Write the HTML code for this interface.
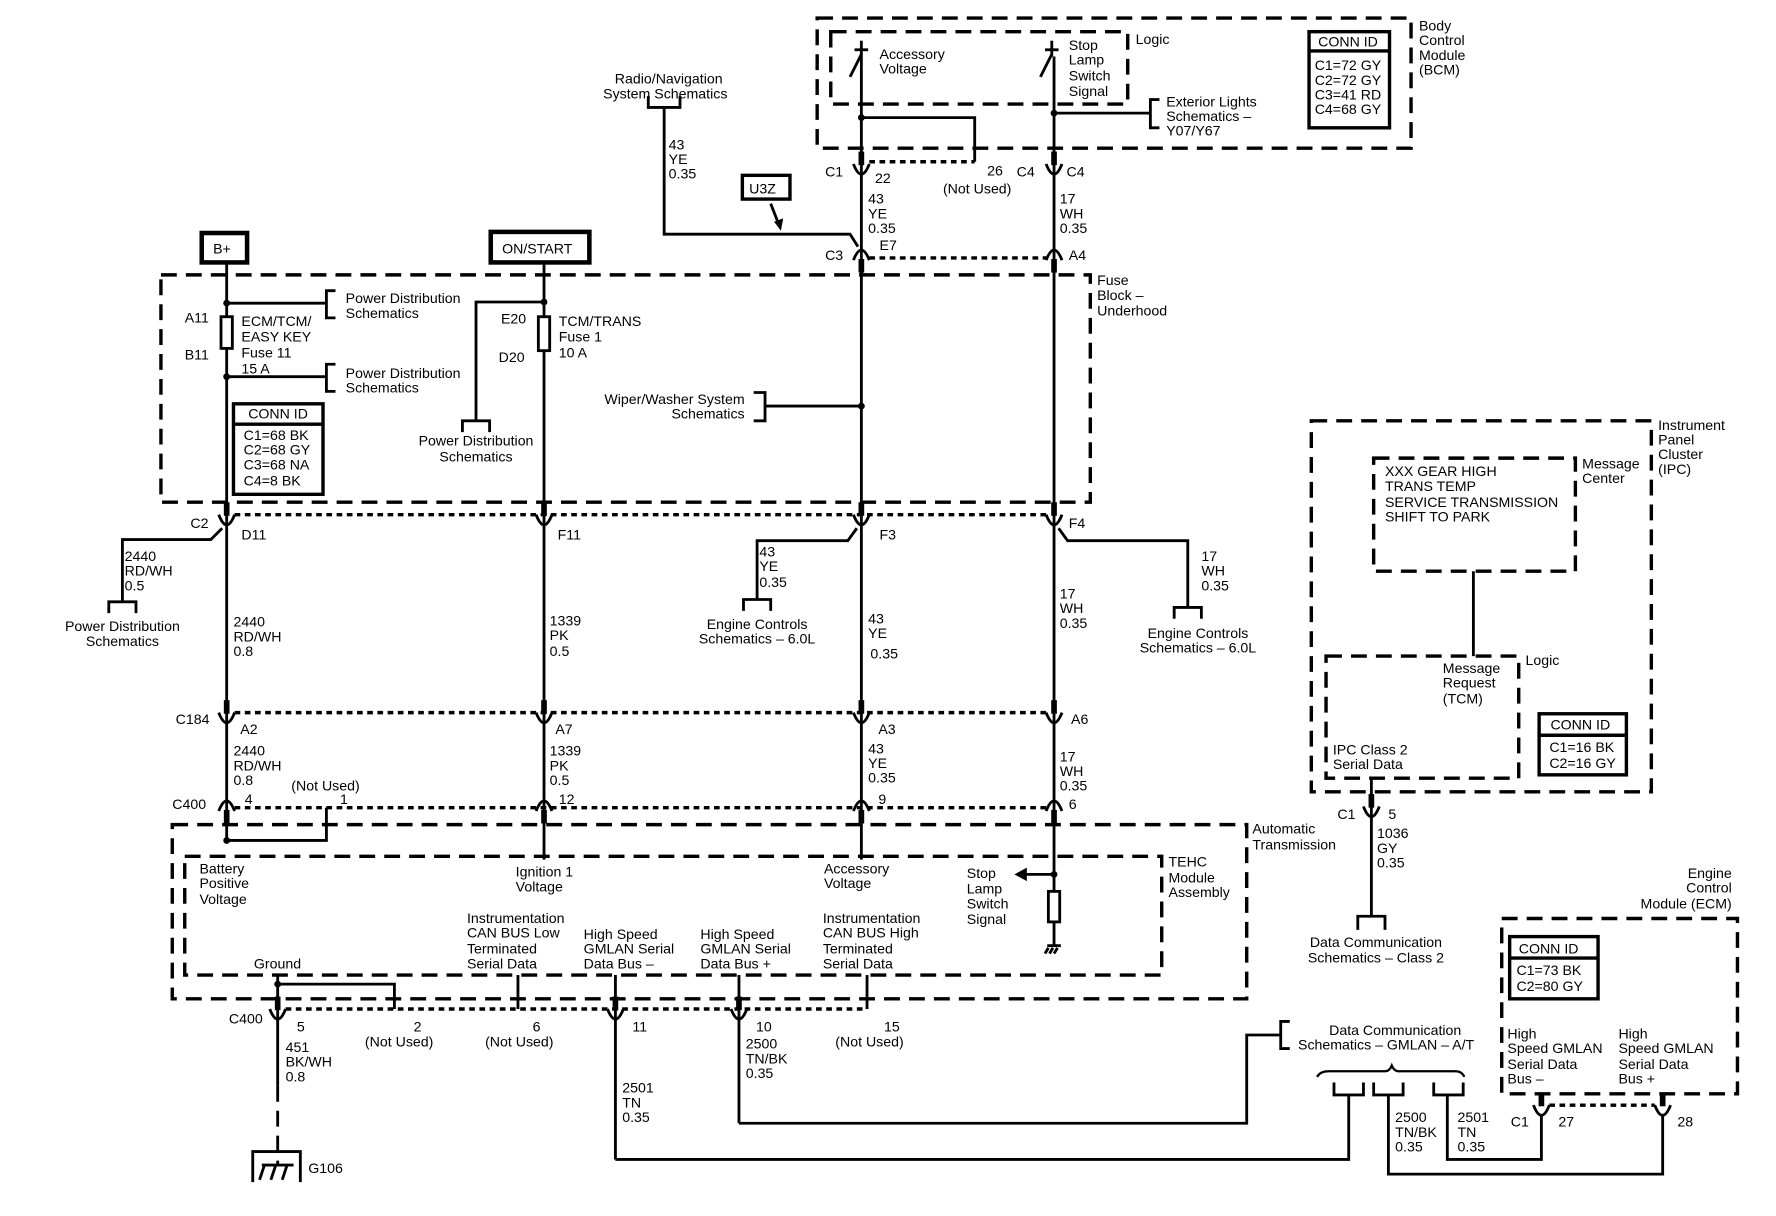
<!DOCTYPE html>
<html><head><meta charset="utf-8"><style>
html,body{margin:0;padding:0;background:#fff;}
svg{display:block;}
text{font-family:"Liberation Sans",Arial,sans-serif;font-size:12.5px;fill:#000;}
</style></head><body>
<svg width="1776" height="1216" viewBox="0 0 1567 1075" preserveAspectRatio="none" xmlns="http://www.w3.org/2000/svg">
<defs>
<g id="cup"><path d="M-7,-5 Q0,13 7,-5" fill="none" stroke="#000" stroke-width="2.5"/><rect x="-2.5" y="-16" width="5" height="12"/></g>
<g id="cap"><path d="M-7,5 Q0,-13 7,5" fill="none" stroke="#000" stroke-width="2.5"/><rect x="-2.5" y="4" width="5" height="12"/></g>
</defs>
<g fill="none" stroke="#000">
<g stroke-width="3" stroke-dasharray="14 8">
<rect x="721" y="16" width="524" height="115"/>
<rect x="733" y="28" width="262" height="64"/>
<rect x="142" y="243" width="820" height="201"/>
<rect x="152" y="729" width="948" height="154"/>
<rect x="163" y="757" width="862" height="105"/>
<rect x="1157" y="372" width="300" height="328"/>
<rect x="1212" y="405" width="178" height="100"/>
<rect x="1170" y="580" width="170" height="108"/>
<rect x="1325" y="812" width="208" height="155"/>
</g>
<g stroke-width="3" stroke-dasharray="5 4">
<line x1="767" y1="143" x2="860" y2="143"/>
<line x1="767" y1="228" x2="923" y2="228"/>
<line x1="207" y1="455" x2="923" y2="455"/>
<line x1="207" y1="630" x2="923" y2="630"/>
<line x1="207" y1="714" x2="923" y2="714"/>
<line x1="252" y1="892" x2="765" y2="892"/>
<line x1="1367" y1="977" x2="1460" y2="977"/>
</g>
<g stroke-width="2.5">
<line x1="760" y1="50" x2="760" y2="760"/>
<polyline points="760,104 860,104 860,143"/>
<line x1="930" y1="50" x2="930" y2="835"/>
<polyline points="930,100 1015,100"/>
<polyline points="1023,88 1015,88 1015,113 1023,113"/>
<line x1="760" y1="50" x2="760" y2="36"/><line x1="754" y1="44" x2="766" y2="44"/><line x1="760" y1="48" x2="750" y2="68"/>
<line x1="928" y1="50" x2="928" y2="36"/><line x1="922" y1="44" x2="934" y2="44"/><line x1="928" y1="48" x2="918" y2="68"/>
<polyline points="572,85 572,95 600,95 600,85"/>
<polyline points="586,95 586,207 750,207 757,218"/>
<rect x="655" y="155" width="42" height="21" stroke-width="3"/>
<line x1="680" y1="180" x2="687" y2="198"/>
<rect x="178" y="206" width="40" height="26" stroke-width="4"/>
<rect x="433" y="205" width="87" height="27" stroke-width="4"/>
<line x1="200" y1="232" x2="200" y2="743"/>
<line x1="480" y1="232" x2="480" y2="760"/>
<polyline points="200,268 288,268"/><polyline points="296,257 288,257 288,281 296,281"/>
<polyline points="200,333 288,333"/><polyline points="296,322 288,322 288,346 296,346"/>
<rect x="195" y="280" width="10" height="28" fill="#fff"/>
<rect x="475" y="280" width="10" height="30" fill="#fff"/>
<polyline points="480,267 420,267 420,372"/><polyline points="408,382 408,372 432,372 432,382"/>
<polyline points="760,359 675,359"/><polyline points="665,347 675,347 675,372 665,372"/>
<rect x="206" y="357" width="79" height="80" stroke-width="3"/><line x1="206" y1="375" x2="285" y2="375" stroke-width="3"/>
<polyline points="196,467 186,477 108,477 108,532"/><polyline points="96,542 96,532 120,532 120,542"/>
<polyline points="756,467 748,478 668,478 668,530"/><polyline points="656,540 656,530 680,530 680,540"/>
<polyline points="934,467 942,478 1048,478 1048,537"/><polyline points="1036,547 1036,537 1060,537 1060,547"/>
<polyline points="200,743 288,743 288,714"/>
<line x1="930" y1="773" x2="905" y2="773"/>
<rect x="925" y="788" width="10" height="27" fill="#fff"/>
<line x1="924" y1="836" x2="936" y2="836"/>
<line x1="925" y1="838" x2="922" y2="843"/><line x1="929" y1="838" x2="926" y2="843"/><line x1="933" y1="838" x2="930" y2="843"/>
<line x1="245" y1="862" x2="245" y2="960"/>
<polyline points="245,870 348,870 348,892"/>
<line x1="457" y1="862" x2="457" y2="892"/>
<line x1="543" y1="862" x2="543" y2="1025"/>
<line x1="652" y1="862" x2="652" y2="993"/>
<line x1="765" y1="862" x2="765" y2="892"/>
<line x1="245" y1="960" x2="245" y2="1030" stroke-dasharray="14 8"/>
<polyline points="223,1045 223,1018 265,1018 265,1045"/>
<line x1="231" y1="1030" x2="259" y2="1030"/>
<line x1="233" y1="1031" x2="229" y2="1043"/><line x1="243" y1="1031" x2="239" y2="1043"/><line x1="253" y1="1031" x2="249" y2="1043"/>
<polyline points="543,1025 1190,1025 1190,968"/>
<polyline points="652,993 1100,993 1100,915 1130,915"/>
<polyline points="1138,903 1130,903 1130,927 1138,927"/>
<polyline points="1177,957 1177,968 1203,968 1203,957"/>
<polyline points="1212,957 1212,968 1238,968 1238,957"/>
<polyline points="1265,957 1265,968 1291,968 1291,957"/>
<polyline points="1225,968 1225,1038 1467,1038 1467,985"/>
<polyline points="1277,968 1277,1025 1360,1025 1360,985"/>
<path d="M1162,952 Q1165,947 1172,947 L1222,947 Q1226,947 1228,942 Q1230,947 1234,947 L1284,947 Q1290,947 1292,952" stroke-width="2"/>
<line x1="1300" y1="505" x2="1300" y2="580"/>
<line x1="1210" y1="688" x2="1210" y2="810"/>
<polyline points="1198,822 1198,810 1222,810 1222,822"/>
<rect x="1358" y="631" width="77" height="54" stroke-width="3"/><line x1="1358" y1="650" x2="1435" y2="650" stroke-width="3"/>
<rect x="1155" y="28" width="71" height="85" stroke-width="3"/><line x1="1155" y1="45" x2="1226" y2="45" stroke-width="3"/>
<rect x="1332" y="828" width="78" height="55" stroke-width="3"/><line x1="1332" y1="847" x2="1410" y2="847" stroke-width="3"/>
</g>
</g>
<g fill="#000">
<circle cx="760" cy="104" r="3"/><circle cx="930" cy="100" r="3"/>
<circle cx="200" cy="268" r="3"/><circle cx="200" cy="333" r="3"/><circle cx="480" cy="267" r="3"/>
<circle cx="760" cy="359" r="3"/><circle cx="200" cy="743" r="3"/><circle cx="930" cy="773" r="3"/><circle cx="245" cy="870" r="3"/>
<polygon points="683,196 691,193 689,204"/>
<polygon points="895,773 906,767 906,779"/>
<use href="#cup" x="760" y="150"/><use href="#cup" x="930" y="150"/>
<use href="#cap" x="760" y="225"/><use href="#cap" x="930" y="225"/>
<use href="#cup" x="200" y="460"/><use href="#cup" x="480" y="460"/><use href="#cup" x="760" y="460"/><use href="#cup" x="930" y="460"/>
<use href="#cup" x="200" y="635"/><use href="#cup" x="480" y="635"/><use href="#cup" x="760" y="635"/><use href="#cup" x="930" y="635"/>
<use href="#cap" x="200" y="712"/><use href="#cap" x="480" y="712"/><use href="#cap" x="760" y="712"/><use href="#cap" x="930" y="712"/>
<use href="#cup" x="245" y="897"/><use href="#cup" x="543" y="897"/><use href="#cup" x="652" y="897"/>
<use href="#cup" x="1210" y="718"/>
<use href="#cup" x="1360" y="982"/><use href="#cup" x="1467" y="982"/>
</g>
<g>
<text x="590" y="74" text-anchor="middle">Radio/Navigation</text><text x="587" y="87" text-anchor="middle">System Schematics</text>
<text x="590" y="132">43</text><text x="590" y="145">YE</text><text x="590" y="158">0.35</text>
<text x="661" y="171">U3Z</text>
<text x="776" y="52">Accessory</text><text x="776" y="65">Voltage</text>
<text x="943" y="44">Stop</text><text x="943" y="57">Lamp</text><text x="943" y="71">Switch</text><text x="943" y="85">Signal</text>
<text x="1002" y="39">Logic</text>
<text x="1029" y="94">Exterior Lights</text><text x="1029" y="107">Schematics –</text><text x="1029" y="120">Y07/Y67</text>
<text x="1163" y="41">CONN ID</text>
<text x="1160" y="62">C1=72 GY</text><text x="1160" y="75">C2=72 GY</text><text x="1160" y="88">C3=41 RD</text><text x="1160" y="101">C4=68 GY</text>
<text x="1252" y="27">Body</text><text x="1252" y="40">Control</text><text x="1252" y="53">Module</text><text x="1252" y="66">(BCM)</text>
<text x="728" y="156">C1</text><text x="772" y="162">22</text><text x="871" y="155">26</text><text x="832" y="171">(Not Used)</text>
<text x="897" y="156">C4</text><text x="941" y="156">C4</text>
<text x="766" y="180">43</text><text x="766" y="193">YE</text><text x="766" y="206">0.35</text><text x="776" y="221">E7</text>
<text x="935" y="180">17</text><text x="935" y="193">WH</text><text x="935" y="206">0.35</text>
<text x="728" y="230">C3</text><text x="943" y="230">A4</text>
<text x="188" y="224">B+</text><text x="443" y="224">ON/START</text>
<text x="968" y="252">Fuse</text><text x="968" y="265">Block –</text><text x="968" y="279">Underhood</text>
<text x="305" y="268">Power Distribution</text><text x="305" y="281">Schematics</text>
<text x="305" y="334">Power Distribution</text><text x="305" y="347">Schematics</text>
<text x="163" y="285">A11</text><text x="163" y="318">B11</text>
<text x="213" y="288">ECM/TCM/</text><text x="213" y="302">EASY KEY</text><text x="213" y="316">Fuse 11</text><text x="213" y="330">15 A</text>
<text x="219" y="370">CONN ID</text>
<text x="215" y="389">C1=68 BK</text><text x="215" y="402">C2=68 GY</text><text x="215" y="415">C3=68 NA</text><text x="215" y="429">C4=8 BK</text>
<text x="442" y="286">E20</text><text x="440" y="320">D20</text>
<text x="493" y="288">TCM/TRANS</text><text x="493" y="302">Fuse 1</text><text x="493" y="316">10 A</text>
<text x="420" y="394" text-anchor="middle">Power Distribution</text><text x="420" y="408" text-anchor="middle">Schematics</text>
<text x="657" y="357" text-anchor="end">Wiper/Washer System</text><text x="657" y="370" text-anchor="end">Schematics</text>
<text x="168" y="467">C2</text><text x="213" y="477">D11</text><text x="492" y="477">F11</text><text x="776" y="477">F3</text><text x="943" y="467">F4</text>
<text x="110" y="496">2440</text><text x="110" y="509">RD/WH</text><text x="110" y="522">0.5</text>
<text x="108" y="558" text-anchor="middle">Power Distribution</text><text x="108" y="571" text-anchor="middle">Schematics</text>
<text x="670" y="492">43</text><text x="670" y="505">YE</text><text x="670" y="519">0.35</text>
<text x="668" y="556" text-anchor="middle">Engine Controls</text><text x="668" y="569" text-anchor="middle">Schematics – 6.0L</text>
<text x="1060" y="496">17</text><text x="1060" y="509">WH</text><text x="1060" y="522">0.35</text>
<text x="1057" y="564" text-anchor="middle">Engine Controls</text><text x="1057" y="577" text-anchor="middle">Schematics – 6.0L</text>
<text x="206" y="554">2440</text><text x="206" y="567">RD/WH</text><text x="206" y="580">0.8</text>
<text x="485" y="553">1339</text><text x="485" y="566">PK</text><text x="485" y="580">0.5</text>
<text x="766" y="551">43</text><text x="766" y="564">YE</text><text x="768" y="582">0.35</text>
<text x="935" y="529">17</text><text x="935" y="542">WH</text><text x="935" y="555">0.35</text>
<text x="155" y="640">C184</text><text x="212" y="649">A2</text><text x="490" y="649">A7</text><text x="775" y="649">A3</text><text x="945" y="640">A6</text>
<text x="206" y="668">2440</text><text x="206" y="681">RD/WH</text><text x="206" y="694">0.8</text>
<text x="485" y="668">1339</text><text x="485" y="681">PK</text><text x="485" y="694">0.5</text>
<text x="766" y="666">43</text><text x="766" y="679">YE</text><text x="766" y="692">0.35</text>
<text x="935" y="673">17</text><text x="935" y="686">WH</text><text x="935" y="699">0.35</text>
<text x="257" y="699">(Not Used)</text>
<text x="152" y="715">C400</text><text x="216" y="711">4</text><text x="300" y="711">1</text><text x="493" y="711">12</text><text x="775" y="711">9</text><text x="943" y="715">6</text>
<text x="1105" y="737">Automatic</text><text x="1105" y="751">Transmission</text>
<text x="1031" y="766">TEHC</text><text x="1031" y="780">Module</text><text x="1031" y="793">Assembly</text>
<text x="176" y="772">Battery</text><text x="176" y="785">Positive</text><text x="176" y="799">Voltage</text>
<text x="455" y="775">Ignition 1</text><text x="455" y="788">Voltage</text>
<text x="727" y="772">Accessory</text><text x="727" y="785">Voltage</text>
<text x="853" y="776">Stop</text><text x="853" y="790">Lamp</text><text x="853" y="803">Switch</text><text x="853" y="817">Signal</text>
<text x="412" y="816">Instrumentation</text><text x="412" y="829">CAN BUS Low</text><text x="412" y="843">Terminated</text><text x="412" y="856">Serial Data</text>
<text x="515" y="830">High Speed</text><text x="515" y="843">GMLAN Serial</text><text x="515" y="856">Data Bus –</text>
<text x="618" y="830">High Speed</text><text x="618" y="843">GMLAN Serial</text><text x="618" y="856">Data Bus +</text>
<text x="726" y="816">Instrumentation</text><text x="726" y="829">CAN BUS High</text><text x="726" y="843">Terminated</text><text x="726" y="856">Serial Data</text>
<text x="224" y="856">Ground</text>
<text x="202" y="905">C400</text><text x="262" y="912">5</text><text x="365" y="912">2</text><text x="470" y="912">6</text><text x="558" y="912">11</text><text x="667" y="912">10</text><text x="780" y="912">15</text>
<text x="322" y="925">(Not Used)</text><text x="428" y="925">(Not Used)</text><text x="737" y="925">(Not Used)</text>
<text x="252" y="930">451</text><text x="252" y="943">BK/WH</text><text x="252" y="956">0.8</text>
<text x="272" y="1037">G106</text>
<text x="549" y="966">2501</text><text x="549" y="979">TN</text><text x="549" y="992">0.35</text>
<text x="658" y="927">2500</text><text x="658" y="940">TN/BK</text><text x="658" y="953">0.35</text>
<text x="1231" y="992">2500</text><text x="1231" y="1005">TN/BK</text><text x="1231" y="1018">0.35</text>
<text x="1286" y="992">2501</text><text x="1286" y="1005">TN</text><text x="1286" y="1018">0.35</text>
<text x="1231" y="915" text-anchor="middle">Data Communication</text><text x="1223" y="928" text-anchor="middle">Schematics – GMLAN – A/T</text>
<text x="1333" y="996">C1</text><text x="1375" y="996">27</text><text x="1480" y="996">28</text>
<text x="1330" y="918">High</text><text x="1330" y="931">Speed GMLAN</text><text x="1330" y="945">Serial Data</text><text x="1330" y="958">Bus –</text>
<text x="1428" y="918">High</text><text x="1428" y="931">Speed GMLAN</text><text x="1428" y="945">Serial Data</text><text x="1428" y="958">Bus +</text>
<text x="1340" y="843">CONN ID</text><text x="1338" y="862">C1=73 BK</text><text x="1338" y="876">C2=80 GY</text>
<text x="1528" y="776" text-anchor="end">Engine</text><text x="1528" y="789" text-anchor="end">Control</text><text x="1528" y="803" text-anchor="end">Module (ECM)</text>
<text x="1463" y="380">Instrument</text><text x="1463" y="393">Panel</text><text x="1463" y="406">Cluster</text><text x="1463" y="419">(IPC)</text>
<text x="1396" y="414">Message</text><text x="1396" y="427">Center</text>
<text x="1222" y="421">XXX GEAR HIGH</text><text x="1222" y="434">TRANS TEMP</text><text x="1222" y="448">SERVICE TRANSMISSION</text><text x="1222" y="461">SHIFT TO PARK</text>
<text x="1346" y="588">Logic</text>
<text x="1273" y="595">Message</text><text x="1273" y="608">Request</text><text x="1273" y="622">(TCM)</text>
<text x="1368" y="645">CONN ID</text><text x="1367" y="665">C1=16 BK</text><text x="1367" y="679">C2=16 GY</text>
<text x="1176" y="667">IPC Class 2</text><text x="1176" y="680">Serial Data</text>
<text x="1180" y="724">C1</text><text x="1225" y="724">5</text>
<text x="1215" y="741">1036</text><text x="1215" y="754">GY</text><text x="1215" y="767">0.35</text>
<text x="1214" y="837" text-anchor="middle">Data Communication</text><text x="1214" y="851" text-anchor="middle">Schematics – Class 2</text>
</g>
</svg>
</body></html>
